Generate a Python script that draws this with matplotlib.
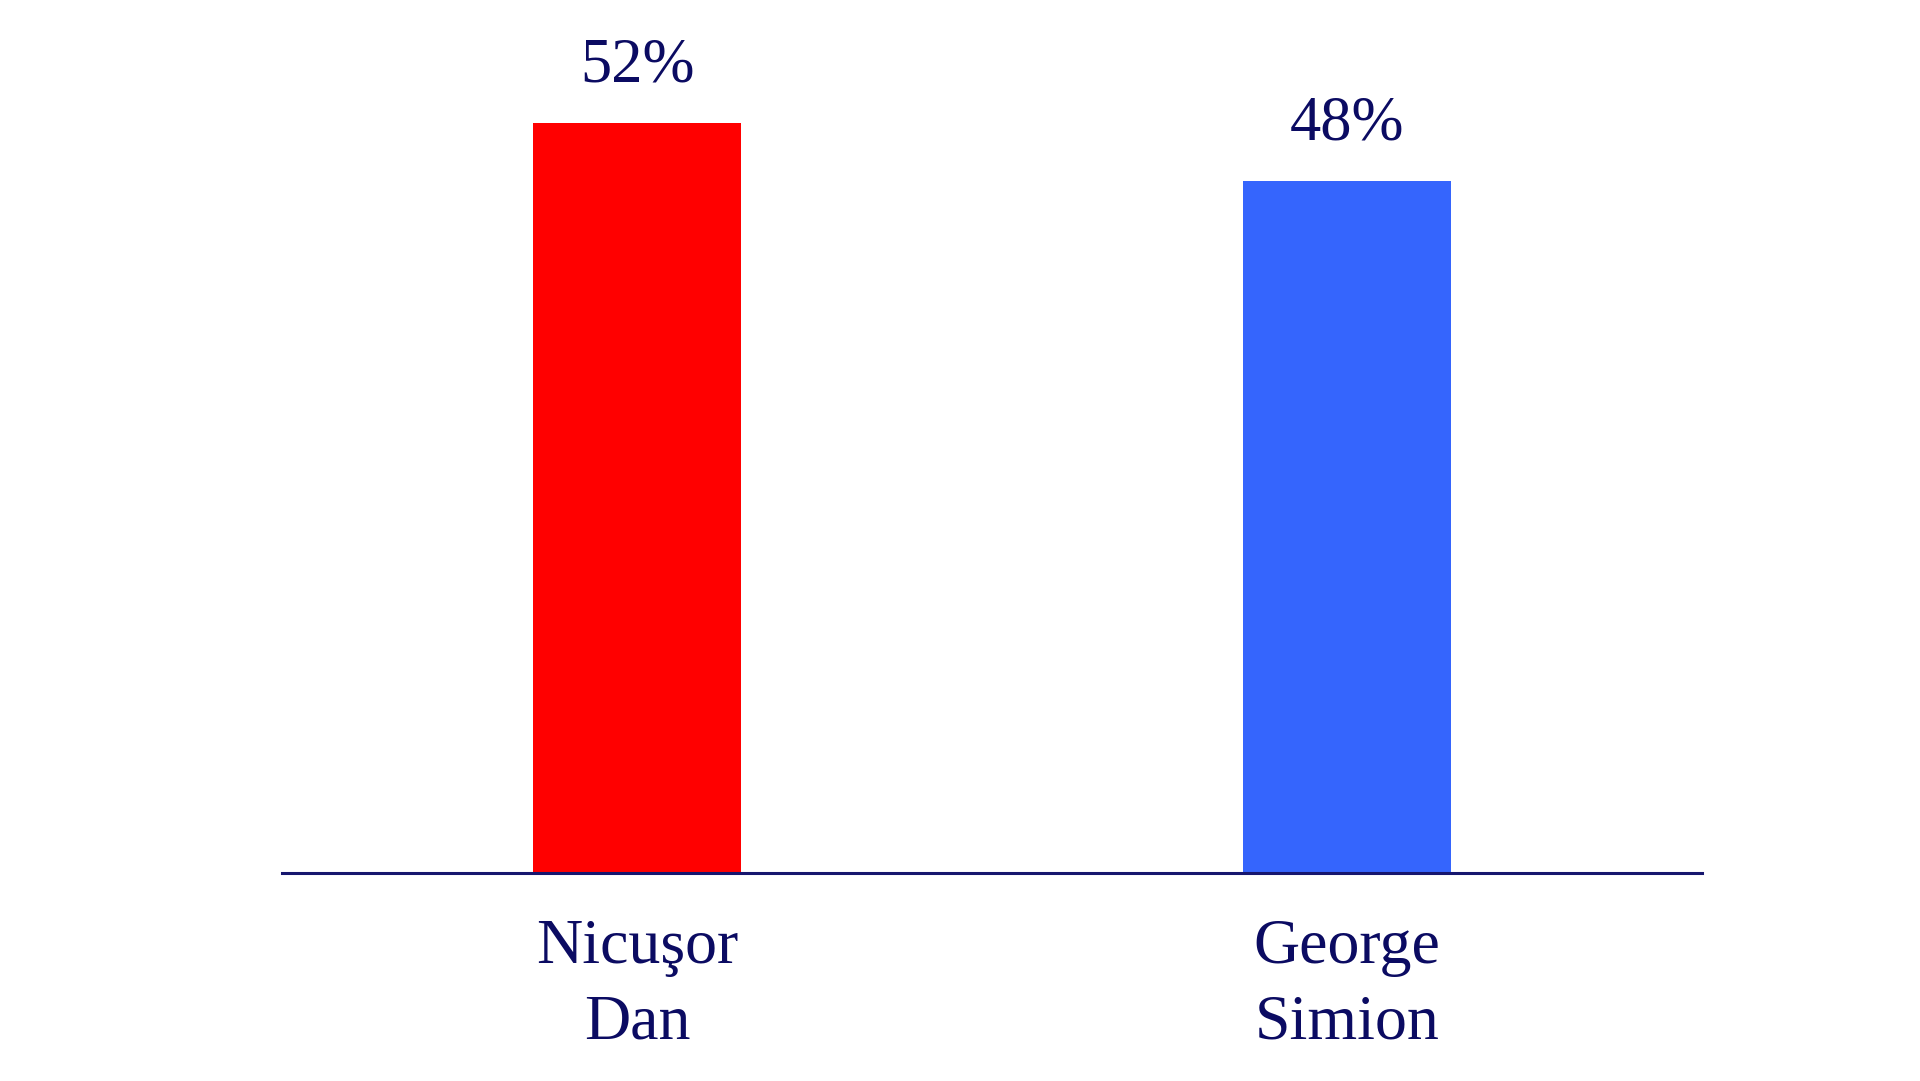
import matplotlib
matplotlib.use("Agg")
import matplotlib.pyplot as plt

categories = ["Nicuşor\nDan", "George\nSimion"]
values = [52, 48]
labels = ["52%", "48%"]
colors = ["#ff0000", "#3565fd"]

text_color = "#0b0b62"
line_color = "#16166e"

plt.rcParams['font.family'] = ['Liberation Serif', 'DejaVu Serif']

fig = plt.figure(figsize=(19.2, 10.81), dpi=100)
ax = fig.add_axes([0.1469, 0.1924, 0.7396, 0.8076])

x = list(range(len(categories)))
bars = ax.bar(x, values, width=0.292, color=colors, zorder=2)

for xi, v, lab in zip(x, values, labels):
    ax.annotate(lab, xy=(xi, v), xytext=(0, 30), textcoords='offset points',
                ha='center', va='baseline', fontsize=45, color=text_color)

ax.set_xlim(-0.5, 1.5)
ax.set_ylim(0, 60.54)
ax.set_xticks(x)
ax.set_xticklabels(categories, fontsize=46, color=text_color, linespacing=1.4)
ax.tick_params(axis='x', length=0, pad=33)
ax.set_yticks([])
for s in ['top', 'left', 'right']:
    ax.spines[s].set_visible(False)
ax.spines['bottom'].set_color(line_color)
ax.spines['bottom'].set_linewidth(2.2)
ax.spines['bottom'].set_zorder(3)
ax.patch.set_alpha(0)

fig.savefig("out.png", dpi=100, facecolor='white')
